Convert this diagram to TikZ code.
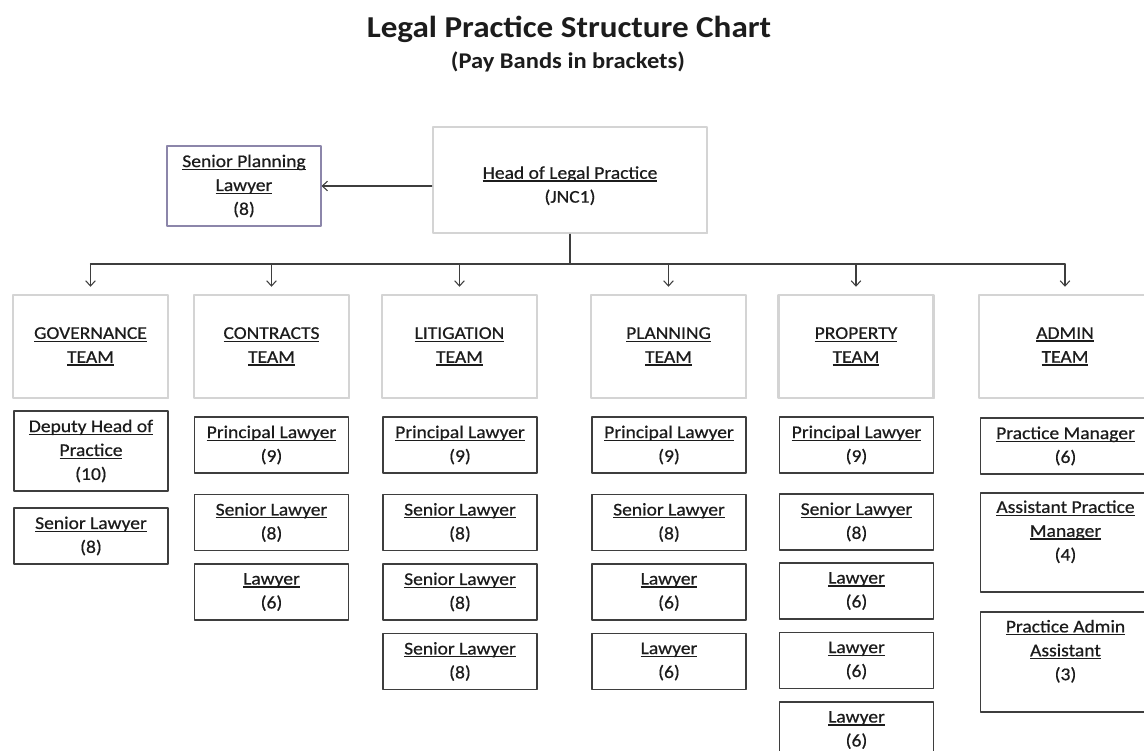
\documentclass[tikz,border=0pt]{standalone}
\usepackage{fontspec}
\setmainfont{Carlito}[FakeStretch=1.09, UprightFeatures={FakeBold=0.6}]
\usepackage{tikz}
\usetikzlibrary{arrows.meta, shadows, calc}
\definecolor{inkgrey}{RGB}{28,28,28}
\definecolor{edgegrey}{RGB}{62,62,62}
\definecolor{paleedge}{RGB}{212,212,212}
\definecolor{lilacedge}{RGB}{140,134,170}
\newlength{\ulwd}
\newcommand{\uln}[1]{\settowidth{\ulwd}{#1}\rlap{\rule[-1.7pt]{\ulwd}{0.75pt}}#1}
\tikzset{
  wire/.style={draw=edgegrey, line width=0.6pt},
  teambox/.style={draw=paleedge, line width=1.4pt, fill=white, align=center,
    minimum width=3.1cm, minimum height=2.06cm, inner sep=1pt,
    drop shadow={shadow xshift=0.6pt, shadow yshift=-0.8pt, opacity=0.25, fill=gray}},
  rolebox/.style={draw=edgegrey, line width=0.8pt, fill=white, align=center,
    minimum width=3.08cm, minimum height=1.12cm, inner sep=1pt},
}

\begin{document}
\begin{tikzpicture}[x=0.02cm, y=-0.02cm, line cap=round, line join=round,
    >={Straight Barb[length=3pt,width=5.5pt]},
    font=\fontsize{10.2}{13.6}\selectfont, text=inkgrey]

    % page
    \fill[white] (0,0) rectangle (1144,751);
    \useasboundingbox (0,0) rectangle (1144,751);

    % titles
    \node[anchor=base, font=\fontsize{17.3}{20}\selectfont\bfseries] (title) at (569,37) {Legal Practice Structure Chart};
    \node[anchor=base, font=\fontsize{12.8}{15}\selectfont\bfseries] (subtitle) at (568,68) {(Pay Bands in brackets)};

    % head and planning lawyer
    \node[teambox, minimum width=5.48cm, minimum height=2.12cm] (head) at (570,180) {\mbox{}\\\uln{Head of Legal Practice}\\(JNC1)};
    \node[rolebox, draw=lilacedge, line width=0.6pt, minimum height=1.6cm] (spl) at (244,186) {\uln{Senior Planning}\\\uln{Lawyer}\\(8)};

    % teams
    \node[teambox] (gov) at (90.5,346.5) {\uln{GOVERNANCE}\\\uln{TEAM}};
    \node[teambox] (con) at (271.5,346.5) {\uln{CONTRACTS}\\\uln{TEAM}};
    \node[teambox] (lit) at (459.5,346.5) {\uln{LITIGATION}\\\uln{TEAM}};
    \node[teambox] (pla) at (668.5,346.5) {\uln{PLANNING}\\\uln{TEAM}};
    \node[teambox] (pro) at (856,346.5) {\uln{PROPERTY}\\\uln{TEAM}};
    \node[teambox, minimum width=3.44cm] (adm) at (1065,346.5) {\uln{ADMIN}\\\uln{TEAM}};

    % governance
    \node[rolebox, minimum height=1.6cm] (gov1) at (91,451) {\uln{Deputy Head of}\\\uln{Practice}\\(10)};
    \node[rolebox] (gov2) at (91,536) {\uln{Senior Lawyer}\\(8)};

    % contracts
    \node[rolebox] (con1) at (271.5,445) {\uln{Principal Lawyer}\\(9)};
    \node[rolebox] (con2) at (271.5,522.5) {\uln{Senior Lawyer}\\(8)};
    \node[rolebox] (con3) at (271.5,592) {\uln{Lawyer}\\(6)};

    % litigation
    \node[rolebox] (lit1) at (460,445) {\uln{Principal Lawyer}\\(9)};
    \node[rolebox] (lit2) at (460,522.5) {\uln{Senior Lawyer}\\(8)};
    \node[rolebox] (lit3) at (460,592) {\uln{Senior Lawyer}\\(8)};
    \node[rolebox] (lit4) at (460,661.5) {\uln{Senior Lawyer}\\(8)};

    % planning
    \node[rolebox] (pla1) at (669,445) {\uln{Principal Lawyer}\\(9)};
    \node[rolebox] (pla2) at (669,522.5) {\uln{Senior Lawyer}\\(8)};
    \node[rolebox] (pla3) at (669,592) {\uln{Lawyer}\\(6)};
    \node[rolebox] (pla4) at (669,661.5) {\uln{Lawyer}\\(6)};

    % property
    \node[rolebox] (pro1) at (856.5,445) {\uln{Principal Lawyer}\\(9)};
    \node[rolebox] (pro2) at (856.5,522) {\uln{Senior Lawyer}\\(8)};
    \node[rolebox] (pro3) at (856.5,591) {\uln{Lawyer}\\(6)};
    \node[rolebox] (pro4) at (856.5,660.5) {\uln{Lawyer}\\(6)};
    \node[rolebox] (pro5) at (856.5,730) {\uln{Lawyer}\\(6)};

    % admin
    \node[rolebox, minimum width=3.4cm] (adm1) at (1065.5,446) {\uln{Practice Manager}\\(6)};
    \node[rolebox, minimum width=3.4cm, minimum height=1.98cm] (adm2) at (1065.5,542.5) {\uln{Assistant Practice}\\\uln{Manager}\\(4)\\\mbox{}};
    \node[rolebox, minimum width=3.4cm, minimum height=2cm] (adm3) at (1065.5,662) {\uln{Practice Admin}\\\uln{Assistant}\\(3)\\\mbox{}};

    % connectors
    \draw[wire,->] (head.west |- spl.east) -- (spl.east);
    \coordinate (bus) at (head.south |- 0,264);
    \draw[wire] (head.south) -- (bus);
    \draw[wire] (gov.north |- bus) -- (adm.north |- bus);
    \foreach \team in {gov,con,lit,pla,pro,adm}
        \draw[wire,->,shorten >=4pt] (\team.north |- bus) -- (\team.north);

\end{tikzpicture}
\end{document}
